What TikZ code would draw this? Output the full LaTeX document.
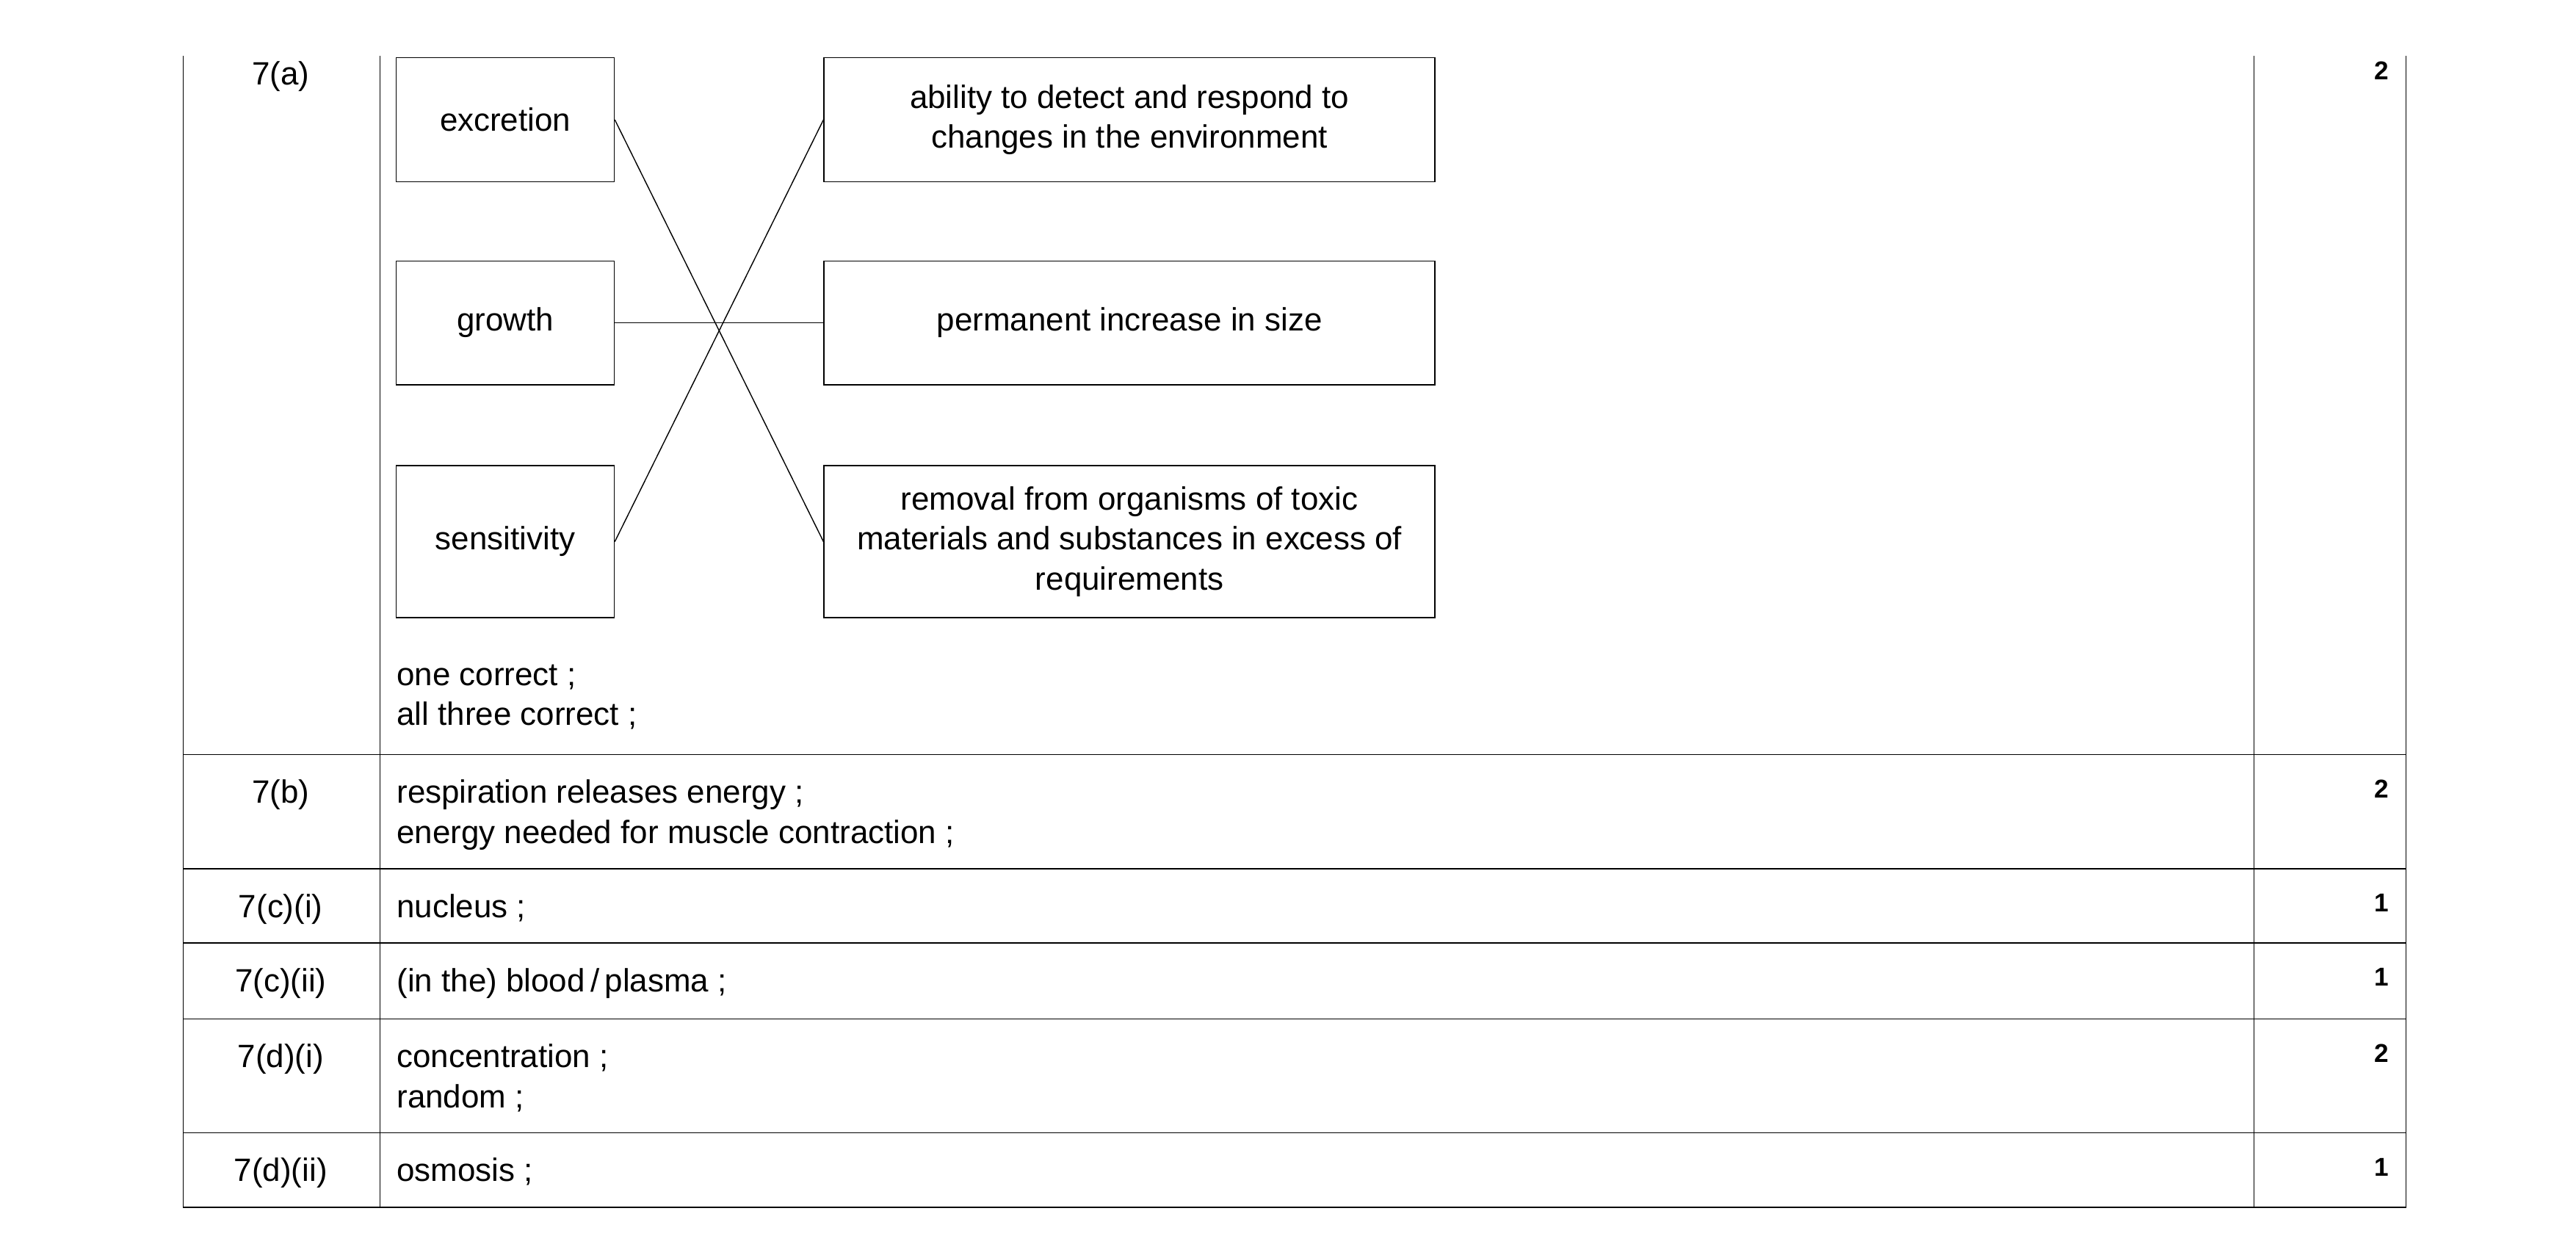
\documentclass[tikz,border=0pt]{standalone}
\usepackage{fontspec}
\setmainfont{Liberation Sans}
\usetikzlibrary{positioning}
\tikzset{
  box/.style={rectangle,draw=black,thin,align=center,inner sep=2pt},
  lbox/.style={box,minimum width=132*0.02249cm},
  rbox/.style={box,minimum width=370*0.02249cm},
  qnum/.style={anchor=north,inner sep=0pt},
  score/.style={anchor=north east,inner sep=0pt,font=\bfseries},
  answer/.style={anchor=north west,inner sep=0pt,align=left}
}
\begin{document}
\begin{tikzpicture}[x=0.02249cm,y=-0.02249cm,font=\fontsize{12.5}{15.5}\selectfont]
  \useasboundingbox (0,0) rectangle (1560,761.7);
  % table
  \draw[thin] (111,34) -- (111,731) -- (1457,731) -- (1457,34);
  \draw[thin] (230,34) -- (230,731);
  \draw[thin] (1365,34) -- (1365,731);
  \foreach \yy in {457,526,571,617,686}
    \draw[thin] (111,\yy) -- (1457,\yy);

  % question numbers and marks
  \node[qnum] (q1) at (170,37) {7(a)};
  \node[qnum] (q2) at (170,472) {7(b)};
  \node[qnum] (q3) at (170,541) {7(c)(i)};
  \node[qnum] (q4) at (170,586) {7(c)(ii)};
  \node[qnum] (q5) at (170,632) {7(d)(i)};
  \node[qnum] (q6) at (170,701) {7(d)(ii)};
  \node[score] (m1) at (1447,37) {2};
  \node[score] (m2) at (1447,472) {2};
  \node[score] (m3) at (1447,541) {1};
  \node[score] (m4) at (1447,586) {1};
  \node[score] (m5) at (1447,632) {2};
  \node[score] (m6) at (1447,701) {1};

  % matching boxes
  \node[lbox,minimum height=75*0.02249cm] (excretion) at (306,72.5) {excretion};
  \node[lbox,minimum height=75*0.02249cm] (growth) at (306,195.5) {growth};
  \node[lbox,minimum height=92*0.02249cm] (sensitivity) at (306,328) {sensitivity};
  \node[rbox,minimum height=75*0.02249cm] (detect) at (684,72.5) {ability to detect and respond to\\changes in the environment};
  \node[rbox,minimum height=75*0.02249cm] (increase) at (684,195.5) {permanent increase in size};
  \node[rbox,minimum height=92*0.02249cm] (removal) at (684,328) {removal from organisms of toxic\\materials and substances in excess of\\requirements};

  \draw (excretion.east) -- (removal.west);
  \draw (growth.east) -- (increase.west);
  \draw (sensitivity.east) -- (detect.west);

  % answers
  \node[answer] (a1) at (240,402) {one correct ;\\all three correct ;};
  \node[answer] (a2) at (240,472) {respiration releases energy ;\\energy needed for muscle contraction ;};
  \node[answer] (a3) at (240,541) {nucleus ;};
  \node[answer] (a4) at (240,586) {(in the) blood\,/\,plasma ;};
  \node[answer] (a5) at (240,632) {concentration ;\\random ;};
  \node[answer] (a6) at (240,701) {osmosis ;};
\end{tikzpicture}
\end{document}
